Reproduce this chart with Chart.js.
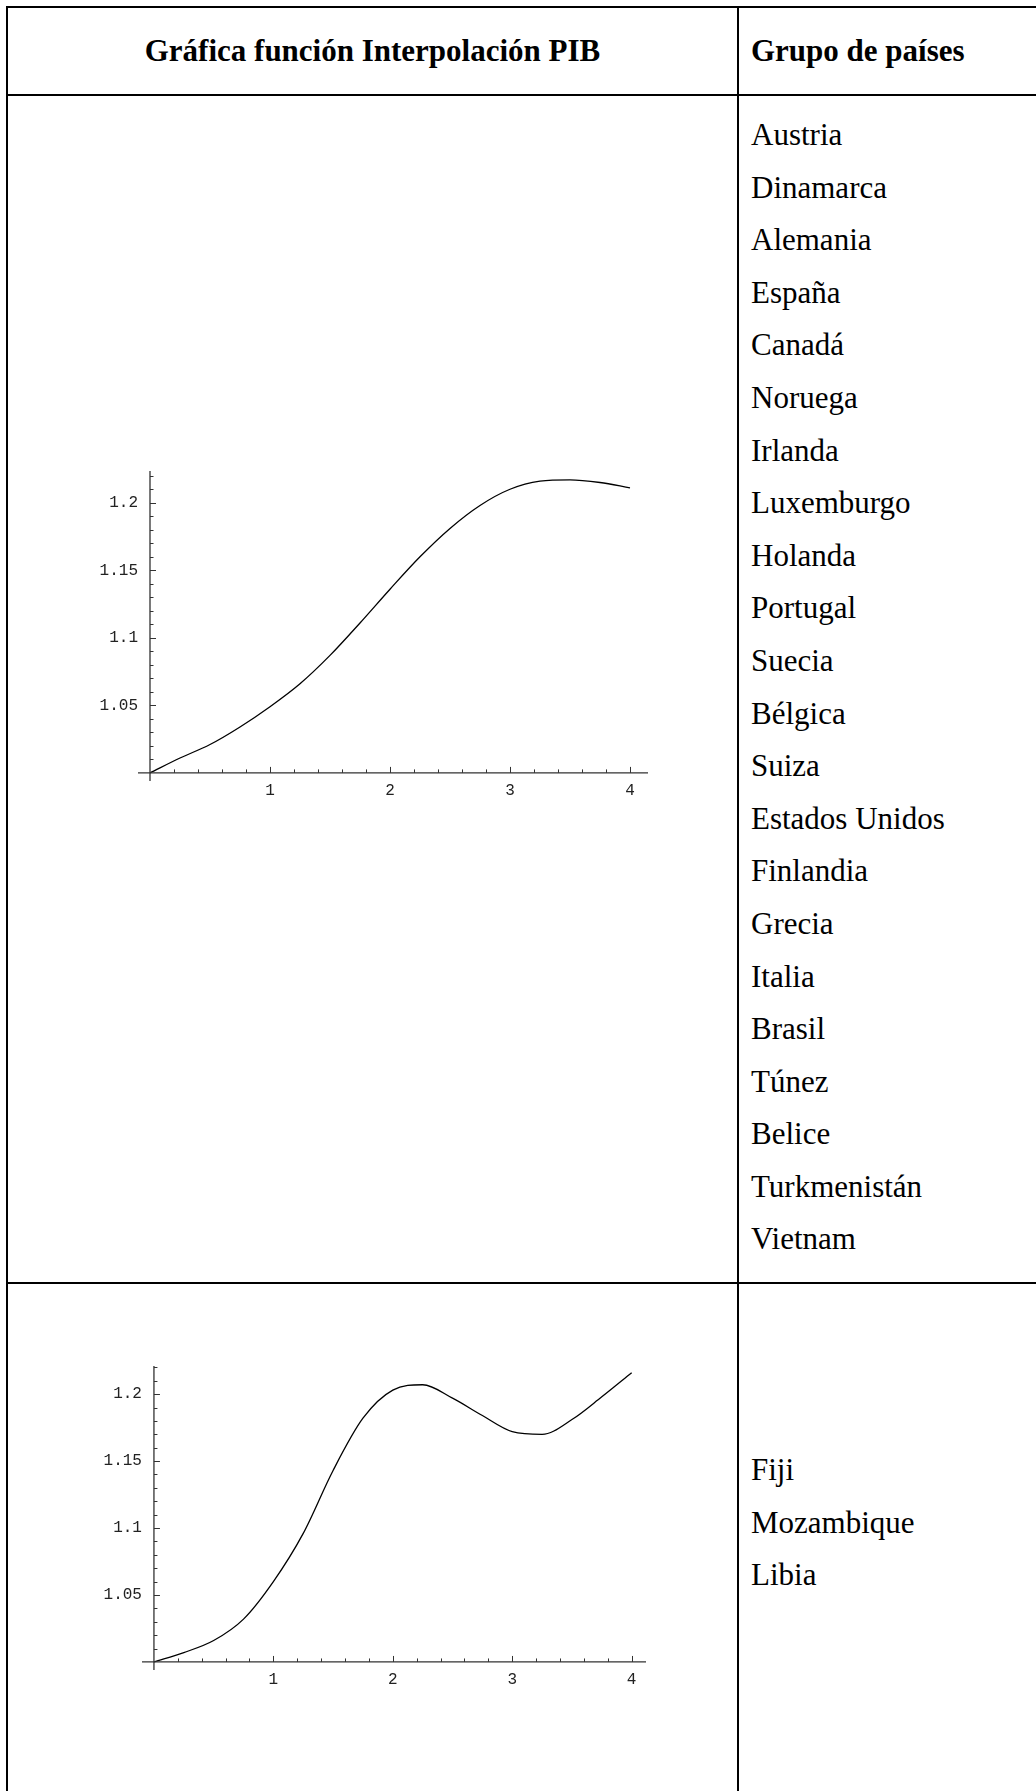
<!DOCTYPE html>
<html lang="es">
<head>
<meta charset="utf-8">
<title>Gráfica función Interpolación PIB</title>
<script src="https://cdn.jsdelivr.net/npm/chart.js@4.4.1/dist/chart.umd.min.js"></script>
<style>
    html, body {
        margin: 0;
        padding: 0;
        background: #ffffff;
    }
    body {
        width: 1036px;
        height: 1791px;
        position: relative;
        overflow: hidden;
        font-family: 'Liberation Serif', 'Times New Roman', serif;
        color: #000;
    }
    .hline, .vline {
        position: absolute;
        background: #000;
    }
    .hline { left: 6px; width: 1100px; height: 2px; }
    .vline { top: 6px; width: 2px; height: 1800px; }
    .cabecera {
        position: absolute;
        top: 8px;
        height: 86px;
        display: flex;
        align-items: center;
        font-weight: bold;
        font-size: 31px;
    }
    .lista {
        position: absolute;
        left: 751px;
        font-size: 31px;
    }
    .lista div { line-height: 52.6px; white-space: nowrap; }
    canvas { position: absolute; }
</style>
</head>
<body>

<!-- bordes de la tabla -->
<div class="hline" style="top:6px"></div>
<div class="hline" style="top:94px"></div>
<div class="hline" style="top:1282px"></div>
<div class="vline" style="left:6px"></div>
<div class="vline" style="left:737px"></div>

<div class="cabecera" style="left:8px;width:729px;justify-content:center">Gráfica función Interpolación PIB</div>
<div class="cabecera" style="left:751px">Grupo de países</div>

<div class="lista" id="listaGrupo1" style="top:109px"></div>
<div class="lista" id="listaGrupo2" style="top:1444px"></div>

<canvas id="graficoGrupo1"></canvas>
<canvas id="graficoGrupo2"></canvas>

<script>
// ------------------------------------------------------------
// Datos
// ------------------------------------------------------------
const paisesGrupo1 = ["Austria", "Dinamarca", "Alemania", "España", "Canadá", "Noruega", "Irlanda",
    "Luxemburgo", "Holanda", "Portugal", "Suecia", "Bélgica", "Suiza", "Estados Unidos", "Finlandia",
    "Grecia", "Italia", "Brasil", "Túnez", "Belice", "Turkmenistán", "Vietnam"];
const paisesGrupo2 = ["Fiji", "Mozambique", "Libia"];

// abscisas de la interpolación (0 a 4)
const valoresX = [0, 0.25, 0.5, 0.75, 1, 1.25, 1.5, 1.75, 2, 2.25, 2.5, 2.75, 3, 3.25, 3.5, 3.75, 4];

// PIB interpolado, grupo 1
const pibGrupo1 = [1.000, 1.011, 1.021, 1.034, 1.049, 1.066, 1.087, 1.111, 1.136, 1.160, 1.181, 1.198,
    1.210, 1.216, 1.217, 1.215, 1.211];

// PIB interpolado, grupo 2
const pibGrupo2 = [1.000, 1.007, 1.016, 1.032, 1.060, 1.096, 1.143, 1.182, 1.203, 1.207, 1.197, 1.184,
    1.172, 1.170, 1.181, 1.198, 1.216];

const ticksX = [1, 2, 3, 4];
const etiquetasX = ["1", "2", "3", "4"];
const ticksY = [1.05, 1.1, 1.15, 1.2];
const etiquetasY = ["1.05", "1.1", "1.15", "1.2"];

// ------------------------------------------------------------
// Listas de países
// ------------------------------------------------------------
function rellenarLista(id, paises) {
    const cont = document.getElementById(id);
    paises.forEach(p => {
        const d = document.createElement('div');
        d.textContent = p;
        cont.appendChild(d);
    });
}
rellenarLista('listaGrupo1', paisesGrupo1);
rellenarLista('listaGrupo2', paisesGrupo2);

// ------------------------------------------------------------
// Ejes al estilo Mathematica: cruzan en (0, 1), marcas hacia dentro
// ------------------------------------------------------------
const ejesMathematica = {
    id: 'ejesMathematica',
    afterDatasetsDraw(chart) {
        const ctx = chart.ctx;
        const area = chart.chartArea;
        const sx = chart.scales.x;
        const sy = chart.scales.y;
        const x0 = sx.getPixelForValue(0);
        const y0 = sy.getPixelForValue(1);

        ctx.save();
        ctx.strokeStyle = '#333';
        ctx.lineWidth = 1.3;
        ctx.beginPath();
        ctx.moveTo(area.left, y0);
        ctx.lineTo(area.right, y0);
        ctx.moveTo(x0, area.top);
        ctx.lineTo(x0, area.bottom);
        ctx.stroke();

        // marcas menores cada 0.2 en x y 0.01 en y
        ctx.lineWidth = 1;
        ctx.beginPath();
        for (let i = 1; i <= 20; i++) {
            const px = Math.round(sx.getPixelForValue(i * 0.2)) + 0.5;
            const largo = (i % 5 === 0) ? 6 : 3.5;
            ctx.moveTo(px, y0);
            ctx.lineTo(px, y0 - largo);
        }
        for (let i = 1; i <= 22; i++) {
            const v = 1 + i * 0.01;
            if (v > sy.max) break;
            const py = Math.round(sy.getPixelForValue(v)) + 0.5;
            const largo = (i % 5 === 0) ? 6 : 3.5;
            ctx.moveTo(x0, py);
            ctx.lineTo(x0 + largo, py);
        }
        ctx.stroke();

        // etiquetas
        ctx.fillStyle = '#222';
        ctx.font = '16px "Liberation Mono", "Courier New", monospace';
        ctx.textBaseline = 'middle';
        ctx.textAlign = 'center';
        ticksX.forEach((v, i) => {
            ctx.fillText(etiquetasX[i], sx.getPixelForValue(v), y0 + 18);
        });
        ctx.textAlign = 'right';
        ticksY.forEach((v, i) => {
            ctx.fillText(etiquetasY[i], x0 - 12, sy.getPixelForValue(v));
        });
        ctx.restore();
    }
};

function crearGrafico(id, valores, geo) {
    const canvas = document.getElementById(id);
    const pad = { left: 60, right: 12, top: 10, bottom: 30 };
    canvas.width = pad.left + geo.anchoArea + pad.right;
    canvas.height = pad.top + geo.altoArea + pad.bottom;
    canvas.style.left = (geo.izquierda - pad.left) + 'px';
    canvas.style.top = (geo.arriba - pad.top) + 'px';

    return new Chart(canvas.getContext('2d'), {
        type: 'line',
        data: {
            datasets: [{
                data: valoresX.map((x, i) => ({ x: x, y: valores[i] })),
                borderColor: '#000',
                borderWidth: 1.3,
                pointRadius: 0,
                fill: false,
                cubicInterpolationMode: 'monotone'
            }]
        },
        options: {
            responsive: false,
            animation: false,
            devicePixelRatio: 1,
            layout: { padding: pad },
            plugins: {
                legend: { display: false },
                tooltip: { enabled: false }
            },
            scales: {
                x: { type: 'linear', display: false, min: geo.xMin, max: geo.xMax },
                y: { type: 'linear', display: false, min: geo.yMin, max: geo.yMax }
            }
        },
        plugins: [ejesMathematica]
    });
}

document.addEventListener('DOMContentLoaded', () => {
    crearGrafico('graficoGrupo1', pibGrupo1, {
        izquierda: 138, arriba: 471, anchoArea: 510, altoArea: 310,
        xMin: -0.1, xMax: 4.15, yMin: 0.994, yMax: 1.2235
    });
    crearGrafico('graficoGrupo2', pibGrupo2, {
        izquierda: 142, arriba: 1366, anchoArea: 504, altoArea: 304,
        xMin: -0.1, xMax: 4.12, yMin: 0.994, yMax: 1.221
    });
});
</script>
</body>
</html>
